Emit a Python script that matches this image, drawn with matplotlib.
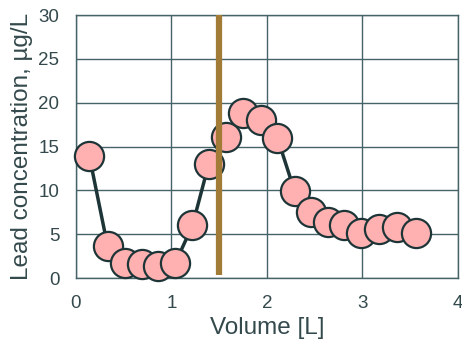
import matplotlib.pyplot as plt

# lead profile data
volume = [0.14, 0.33, 0.51, 0.69, 0.86, 1.04, 1.22, 1.39, 1.57, 1.75,
          1.94, 2.11, 2.29, 2.46, 2.64, 2.81, 2.99, 3.17, 3.36, 3.56]
lead = [13.9, 3.7, 1.7, 1.6, 1.4, 1.7, 6.0, 13.0, 16.1, 18.8,
        18.0, 16.0, 9.9, 7.5, 6.4, 6.1, 5.1, 5.6, 5.8, 5.1]

marker_x = 1.5
marker_span = [0.4, 30.0]

x_ticks = [0, 1, 2, 3, 4]
y_ticks = [0, 5, 10, 15, 20, 25, 30]

GRID = "#466468"
TEXT = "#34494c"

plt.rcParams['font.family'] = ['Liberation Sans', 'DejaVu Sans']

fig = plt.figure(figsize=(4.62, 3.45), dpi=100)
ax = fig.add_axes([0.1645, 0.194, 0.8265, 0.7625])

ax.plot(volume, lead, color="#1e3538", lw=2.5, marker="o", ms=21,
        mfc="#ffb1b1", mec="#1e3538", mew=1.6, zorder=3, clip_on=False)
ax.plot([marker_x, marker_x], marker_span, color="#a27b37", lw=4.5,
        zorder=4, clip_on=False, solid_capstyle="butt")

ax.set_xlim(0, 4)
ax.set_ylim(0, 30)
ax.set_xticks(x_ticks)
ax.set_yticks(y_ticks)
ax.grid(True, color=GRID, lw=1.0)
ax.set_axisbelow(True)
for s in ax.spines.values():
    s.set_color(GRID)
    s.set_linewidth(1.0)
ax.tick_params(length=0, labelsize=13.5, labelcolor=TEXT, pad=12)

ax.set_xlabel("Volume [L]", fontsize=17.5, color=TEXT, labelpad=4)
ax.set_ylabel("Lead concentration, µg/L", fontsize=17.5, color=TEXT, labelpad=4)

fig.savefig("out.png", dpi=100)
